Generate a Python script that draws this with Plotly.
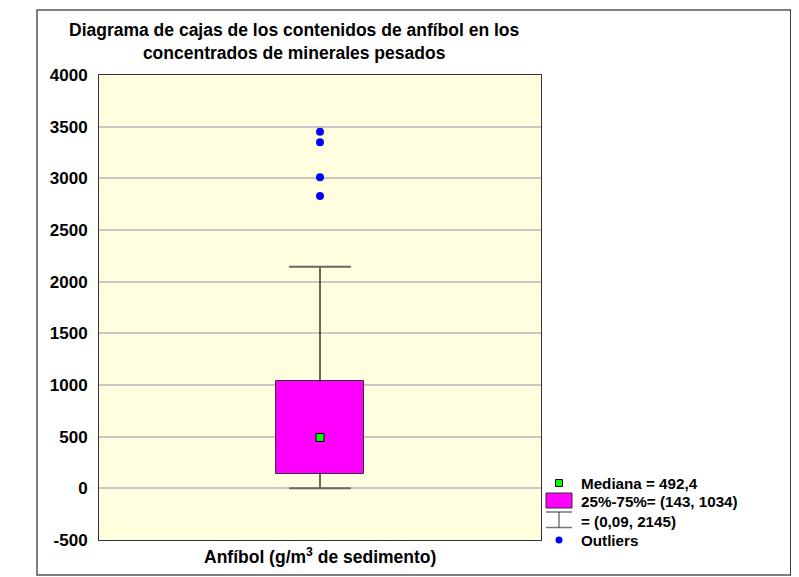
import plotly.graph_objects as go

# ---- data ----
category_label = "Anfíbol (g/m<sup>3</sup> de sedimento)"
q1 = 143
q3 = 1034
median = 492.4
whisker_low = 0.09
whisker_high = 2145
outliers = [3450, 3350, 3010, 2830]
legend_labels = ["Mediana = 492,4", "25%-75%= (143, 1034)", "= (0,09, 2145)", "Outliers"]
y_ticks = [-500, 0, 500, 1000, 1500, 2000, 2500, 3000, 3500, 4000]
y_tick_text = ["-500", "0", "500", "1000", "1500", "2000", "2500", "3000", "3500", "4000"]

OFF = 8  # page body margin
W, H = 799 - OFF, 577 - OFF
L, R, T, B = 99, 541, 75, 540  # plot area in page px


def px(x):
    return (x - L) / (R - L)


def py(y):
    return (B - y) / (B - T)


FONT = "Liberation Sans, Arial, sans-serif"
box_w = 0.398
cap = 0.14

fig = go.Figure()
fig.add_trace(go.Bar(x=[0], base=[q1], y=[q3 - q1], width=box_w,
                     marker=dict(color="#FF00FF", line=dict(color="#333333", width=1)),
                     hoverinfo="skip"))
fig.add_trace(go.Scatter(x=[0, 0, None, 0, 0], y=[whisker_low, q1, None, q3, whisker_high],
                         mode="lines", line=dict(color="#000000", width=1.2)))
fig.add_trace(go.Scatter(x=[-cap, cap, None, -cap, cap],
                         y=[whisker_low, whisker_low, None, whisker_high, whisker_high],
                         mode="lines", line=dict(color="#666666", width=2)))
fig.add_trace(go.Scatter(x=[0], y=[median], mode="markers",
                         marker=dict(symbol="square", size=8, color="#00FF00",
                                     line=dict(color="#000000", width=1))))
fig.add_trace(go.Scatter(x=[0] * len(outliers), y=outliers, mode="markers",
                         marker=dict(symbol="circle", size=8, color="#0000FF")))

shapes = []
# outer frame
shapes.append(dict(type="rect", xref="paper", yref="paper", x0=px(37), x1=px(792), y0=py(575), y1=py(10),
                   line=dict(color="#555555", width=1.5), layer="below"))
shapes.append(dict(type="line", xref="paper", yref="paper", x0=px(792), x1=px(792), y0=py(575), y1=py(10),
                   line=dict(color="#000000", width=3.5)))
# legend symbols
shapes.append(dict(type="rect", xref="paper", yref="paper", x0=px(555.5), x1=px(562.5), y0=py(486.5), y1=py(479.5),
                   fillcolor="#00FF00", line=dict(color="#000000", width=1)))
shapes.append(dict(type="rect", xref="paper", yref="paper", x0=px(546), x1=px(572), y0=py(508), y1=py(493),
                   fillcolor="#FF00FF", line=dict(color="#333333", width=1)))
for yy in (512, 527.5):
    shapes.append(dict(type="line", xref="paper", yref="paper", x0=px(546), x1=px(572), y0=py(yy), y1=py(yy),
                       line=dict(color="#777777", width=1.5)))
shapes.append(dict(type="line", xref="paper", yref="paper", x0=px(559), x1=px(559), y0=py(512), y1=py(527.5),
                   line=dict(color="#333333", width=1)))
shapes.append(dict(type="circle", xref="paper", yref="paper", x0=px(555.5), x1=px(562.5), y0=py(543.5), y1=py(536.5),
                   fillcolor="#0000FF", line=dict(color="#0000FF", width=0)))

annotations = []
annotations.append(dict(xref="paper", yref="paper", x=px(294), y=py(41), xanchor="center", yanchor="middle",
                        text="<b>Diagrama de cajas de los contenidos de anfíbol en los<br>concentrados de minerales pesados</b>",
                        showarrow=False, font=dict(family=FONT, size=17.5, color="#000000")))
annotations.append(dict(xref="paper", yref="paper", x=px(320), y=py(556), xanchor="center", yanchor="middle",
                        text="<b>" + category_label + "</b>", showarrow=False,
                        font=dict(family=FONT, size=17.5, color="#000000")))
for lab, yy in zip(legend_labels, [483, 501, 521, 540]):
    annotations.append(dict(xref="paper", yref="paper", x=px(579), y=py(yy), xanchor="left", yanchor="middle",
                            text="<b>" + lab + "</b>", showarrow=False,
                            font=dict(family=FONT, size=15.2, color="#000000")))

fig.update_layout(
    width=W, height=H,
    margin=dict(l=L - OFF, r=W - (R - OFF), t=T - OFF, b=H - (B - OFF)),
    paper_bgcolor="#FFFFFF", plot_bgcolor="#FFFFE0",
    showlegend=False,
    shapes=shapes, annotations=annotations,
    xaxis=dict(range=[-1, 1], showticklabels=False, showgrid=False, zeroline=False,
               showline=True, mirror=True, linecolor="#333333", linewidth=1, fixedrange=True),
    yaxis=dict(range=[-500, 4000], tickvals=y_ticks, ticktext=y_tick_text,
               showgrid=True, gridcolor="#C8C8C8", gridwidth=1.5,
               zeroline=False, showline=True, mirror=True, linecolor="#333333", linewidth=1,
               tickfont=dict(family=FONT, size=17, color="#000000", weight="bold"),
               ticks="", ticklabelstandoff=7),
    bargap=0,
)

fig.write_html("out.html")
